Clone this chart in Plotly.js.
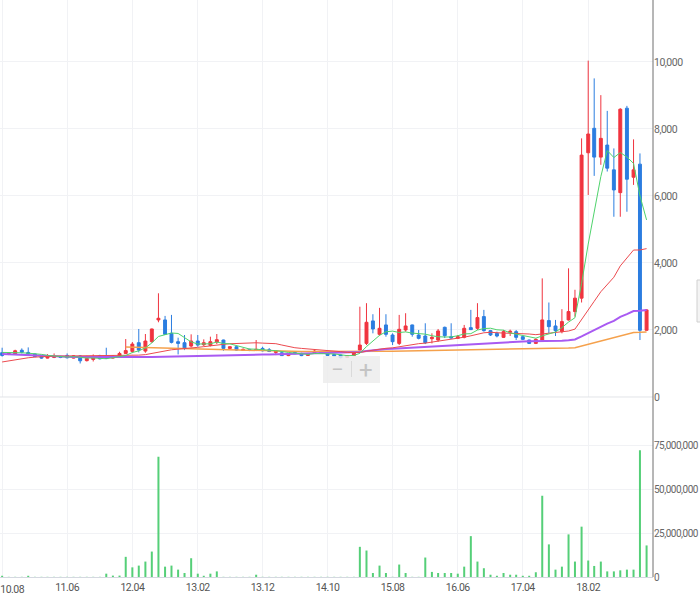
<!DOCTYPE html>
<html>
<head>
<meta charset="utf-8">
<script src="https://cdn.plot.ly/plotly-3.0.1.min.js"></script>
<style>
html,body{margin:0;padding:0;background:#fff;}
#chart{width:700px;height:602px;}
#chart .xtick text, #chart .ytick text, #chart .y2tick text, #chart .lbl10 text { letter-spacing:-0.5px; }
</style>
</head>
<body>
<div id="chart"></div>
<script>
// Monthly candles, 2010.08 - 2018.11
const months = [
 '2010-08','2010-09','2010-10','2010-11','2010-12',
 '2011-01','2011-02','2011-03','2011-04','2011-05','2011-06','2011-07','2011-08','2011-09','2011-10','2011-11','2011-12',
 '2012-01','2012-02','2012-03','2012-04','2012-05','2012-06','2012-07','2012-08','2012-09','2012-10','2012-11','2012-12',
 '2013-01','2013-02','2013-03','2013-04','2013-05','2013-06','2013-07','2013-08','2013-09','2013-10','2013-11','2013-12',
 '2014-01','2014-02','2014-03','2014-04','2014-05','2014-06','2014-07','2014-08','2014-09','2014-10','2014-11','2014-12',
 '2015-01','2015-02','2015-03','2015-04','2015-05','2015-06','2015-07','2015-08','2015-09','2015-10','2015-11','2015-12',
 '2016-01','2016-02','2016-03','2016-04','2016-05','2016-06','2016-07','2016-08','2016-09','2016-10','2016-11','2016-12',
 '2017-01','2017-02','2017-03','2017-04','2017-05','2017-06','2017-07','2017-08','2017-09','2017-10','2017-11','2017-12',
 '2018-01','2018-02','2018-03','2018-04','2018-05','2018-06','2018-07','2018-08','2018-09','2018-10','2018-11'
];

const openP = [1323,1270,1280,1395,1330,1285,1205,1160,1180,1210, 1240,1160,1225,1085,1120,1230,1190,1160,1200,1300,
 1360,1620,1370,1650,2300,2300,1900,1650,1620,1520, 1670,1560,1540,1640,1700,1450,1500,1390,1420,1390,
 1450,1410,1330,1320,1235,1330,1300,1240,1300,1340, 1300,1270,1250,1180,1235,1400,1600,2270,1870,2150,
 1850,1600,2000,2150,1850,1820,1740,1700,2080,1800, 1750,1780,2070,2050,2400,1980,1900,1780,1930,1950,
 1800,1700,1600,1700,2280,2120,1950,2300,2550,2950, 7290,8020,7160,7520,6780,6100,8620,6560,6950,1990];

const highP = [1470,1320,1410,1450,1480,1300,1230,1280,1300,1230, 1300,1250,1250,1230,1270,1260,1470,1240,1350,1730,
 1640,2030,1880,2040,3095,2420,2450,1770,1850,1870, 1850,1720,1800,1880,1710,1510,1510,1450,1440,1700,
 1500,1460,1380,1340,1310,1340,1320,1300,1420,1350, 1320,1280,1270,1240,1350,2695,2800,2470,2660,2470,
 1900,2450,2500,2160,2000,2200,1900,2030,2100,2200, 1850,2150,2600,2800,2600,2000,1950,2000,2010,2000,
 1820,1710,1750,3540,2820,2300,2620,3840,3200,7720, 10040,9510,9010,8540,7420,8620,8690,7690,7270,2620];

const lowP = [1205,1250,1260,1300,1250,1190,1140,1150,1160,1160, 1150,1150,1000,1060,1060,1120,1140,1150,1180,1290,
 1320,1330,1320,1620,2230,1850,1600,1270,1400,1480, 1500,1520,1510,1580,1380,1440,1380,1380,1370,1370,
 1360,1340,1250,1230,1220,1280,1220,1230,1290,1290, 1230,1210,1150,1170,1230,1390,1550,1900,1830,1800,
 1550,1550,1950,1800,1720,1580,1600,1650,1760,1740, 1730,1750,2000,2000,1950,1820,1780,1760,1820,1700,
 1700,1590,1580,1700,1900,1820,1900,2280,2400,2820, 6030,6600,6930,6730,5380,5380,5530,6330,1700,1980];

const closeP = [1240,1300,1380,1335,1280,1205,1160,1230,1215,1180, 1170,1230,1080,1150,1190,1140,1150,1220,1300,1385,
 1580,1400,1670,2030,2350,1870,1630,1600,1450,1670, 1550,1620,1650,1710,1450,1500,1400,1420,1390,1420,
 1380,1360,1370,1235,1300,1290,1235,1290,1370,1300, 1240,1220,1175,1230,1335,1550,2230,2030,2050,1870,
 1650,2020,2120,1870,1750,1620,1780,1970,1830,1760, 1800,2050,2010,2370,1980,1850,1820,1950,1960,1780,
 1720,1600,1720,2300,2100,1980,2250,2550,2950,7220, 7850,7160,7720,6830,6180,8590,6500,6780,1990,2600];

const volume = [700000,100000,100000,100000,700000,100000,100000,100000,100000,100000,
 100000,100000,100000,100000,100000,100000,1900000,800000,800000,11500000,
 5500000,6500000,8800000,14500000,68600000,5900000,6500000,4200000,2300000,10700000,
 1900000,700000,1900000,3200000,100000,100000,100000,100000,100000,1300000,
 100000,100000,100000,100000,100000,100000,100000,100000,100000,100000,
 100000,100000,100000,100000,100000,17200000,15100000,2300000,6500000,2300000,
 100000,7100000,2300000,100000,100000,11100000,2900000,2300000,2300000,2300000,
 1900000,5900000,23300000,8800000,5000000,1300000,700000,2300000,1300000,1300000,
 700000,700000,2700000,46300000,18600000,4200000,5900000,24300000,8800000,28700000,
 9400000,6300000,8800000,3200000,3200000,3800000,4200000,4200000,72200000,18000000];

// Moving-average lines
const ma5 = [1330,1330,1325,1320,1307,1300,1272,1242,1218,1198, 1191,1205,1175,1162,1164,1158,1142,1170,1200,1239,
 1327,1377,1467,1613,1806,1864,1910,1896,1780,1644, 1580,1578,1588,1640,1596,1586,1542,1496,1432,1426,
 1402,1394,1384,1353,1329,1311,1286,1270,1297,1297, 1287,1284,1261,1233,1240,1302,1504,1675,1839,1946,
 1966,1924,1942,1906,1882,1876,1828,1798,1790,1792, 1828,1882,1890,1998,2042,2052,2006,1994,1912,1872,
 1846,1802,1756,1824,1888,1940,2070,2236,2366,3390, 4564,5546,6580,7356,7148,7296,7164,6972,6004,5284];

const ma20 = [1045,1080,1110,1140,1170,1190,1205,1215,1220,1222,1224,1225,1225,1225,1225,1225,1226,1226,1227,
 1227,1244,1249,1264,1298,1352,1385,1409,1427,1439, 1463,1482,1502,1530,1558,1571,1589,1602,1612,1616,
 1618,1608,1606,1591,1551,1499,1470,1450,1435,1431, 1412,1397,1377,1353,1329,1323,1326,1367,1398,1431,
 1453,1467,1500,1537,1569,1591,1608,1635,1669,1692, 1715,1743,1785,1826,1883,1916,1931,1910,1906,1902,
 1897,1901,1880,1860,1881,1899,1917,1940,1969,2025, 2298,2601,2856,3142,3365,3575,3912,4146,4386,4388, 4428];

const ma60 = [1280,1270,1260,1250,1240,1230,1220,1212,1205,1200, 1195,1192,1190,1188,1186,1185,1184,1184,1184,1185,
 1186,1188,1190,1193,1196,1200,1204,1208,1212,1216, 1220,1224,1228,1232,1236,1240,1245,1250,1255,1260,
 1265,1270,1275,1280,1284,1288,1292,1296,1300,1305, 1310,1315,1320,1325,1330,1345,1370,1395,1415,
 1433,1440,1452,1464,1473,1481,1488,1498,1510,1520, 1530,1541,1554,1570,1590,1603,1615,1626,1638,1649,
 1656,1658,1662,1663,1667,1663,1665,1675,1691,1716, 1808,1913,2006,2107,2192,2271,2389,2474,2564,2574, 2593];

const ma120 = [null,null,null,null,null,null,null,null,null,null, null,null,null,null,null,null,null,null,null,
 1490,1485,1480,1474,1466,1458,1450,1444,1438,1432, 1425,1418,1412,1406,1400,1395,1390,1385,1380,1376,
 1372,1368,1365,1362,1360,1358,1356,1355,1354,1353, 1352,1352,1352,1352,1352,1353,1354,1356,1358,1360,
 1362,1365,1368,1371,1374,1377,1380,1383,1386,1389, 1392,1395,1398,1401,1404,1407,1410,1413,1416,1419,
 1422,1425,1430,1435,1440,1445,1450,1455,1462,1470, 1520,1575,1625,1680,1727,1769,1831,1875,1922,1929, 1941];

const tickDates = ['2010-08','2011-06','2012-04','2013-02','2013-12','2014-10','2015-08','2016-06','2017-04','2018-02'];
const tickLabels = ['10.08','11.06','12.04','13.02','13.12','14.10','15.08','16.06','17.04','18.02'];
const priceTicks = [0,2000,4000,6000,8000,10000];
const volTicks = [0,25000000,50000000,75000000];

const RED = '#f0343f', BLUE = '#2b7de0', GREEN_BAR = '#55cf78';
const C_MA5 = '#4fd36c', C_MA20 = '#ec4a4f', C_MA60 = '#a95af2', C_MA120 = '#f5a14c';

const traces = [
  {
    type: 'candlestick', x: months, open: openP, high: highP, low: lowP, close: closeP,
    xaxis: 'x', yaxis: 'y', hoverinfo: 'skip', whiskerwidth: 0,
    increasing: {line: {color: RED, width: 1}, fillcolor: RED},
    decreasing: {line: {color: BLUE, width: 1}, fillcolor: BLUE}
  },
  {type: 'scatter', mode: 'lines', x: months, y: ma120, line: {color: C_MA120, width: 1.5}, hoverinfo: 'skip', xaxis: 'x', yaxis: 'y'},
  {type: 'scatter', mode: 'lines', x: months, y: ma60, line: {color: C_MA60, width: 2}, hoverinfo: 'skip', xaxis: 'x', yaxis: 'y'},
  {type: 'scatter', mode: 'lines', x: months, y: ma20, line: {color: C_MA20, width: 1}, hoverinfo: 'skip', xaxis: 'x', yaxis: 'y'},
  {type: 'scatter', mode: 'lines', x: months, y: ma5, line: {color: C_MA5, width: 1}, hoverinfo: 'skip', xaxis: 'x', yaxis: 'y'},
  {
    type: 'bar', x: months, y: volume, xaxis: 'x', yaxis: 'y2',
    marker: {color: GREEN_BAR, line: {width: 0}}, width: 8.1e8, hoverinfo: 'skip'
  }
];

// first x label sits flush at the left edge, drawn separately
const shownLabels = tickLabels.map((t, i) => i === 0 ? '' : t);

const FONT = 'Roboto, "Noto Sans", "DejaVu Sans", sans-serif';
const layout = {
  width: 700, height: 602,
  margin: {l: 0, r: 47, t: 0, b: 25, pad: 0},
  paper_bgcolor: '#ffffff', plot_bgcolor: '#ffffff',
  showlegend: false,
  font: {family: FONT, size: 10, color: '#666'},
  xaxis: {
    type: 'date', range: ['2010-07-22', '2018-12-01'],
    tickvals: tickDates, ticktext: shownLabels,
    showgrid: true, gridcolor: '#f1f2f5', gridwidth: 1,
    anchor: 'y2', showline: true, linecolor: '#d4d8e0', linewidth: 1,
    ticks: '', zeroline: false, fixedrange: true,
    rangeslider: {visible: false},
    tickfont: {family: FONT, size: 10.5, color: '#555'}
  },
  yaxis: {
    domain: [0.312, 1], range: [0, 11850], side: 'right',
    tickvals: priceTicks, tickformat: ',d',
    showgrid: true, gridcolor: '#f1f2f5', zeroline: false,
    showline: false, ticks: '', fixedrange: true,
    tickfont: {family: FONT, size: 10.5, color: '#666'}
  },
  yaxis2: {
    domain: [0, 0.307], range: [0, 101000000], side: 'right', anchor: 'x',
    tickvals: volTicks, tickformat: ',d',
    showgrid: true, gridcolor: '#f1f2f5', zeroline: false,
    showline: false, ticks: '', fixedrange: true,
    tickfont: {family: FONT, size: 10, color: '#666'}
  },
  shapes: [
    {type: 'line', xref: 'paper', yref: 'paper', x0: 0, x1: 1, y0: 0.312, y1: 0.312, line: {color: '#e2e4e8', width: 1}},
    {type: 'line', xref: 'paper', yref: 'paper', x0: 1, x1: 1, y0: 0, y1: 1, line: {color: '#6f6f6f', width: 1}},
    {type: 'rect', xref: 'paper', yref: 'paper', x0: 323/653, x1: 380/653, y0: 1 - 383/577, y1: 1 - 356/577,
     fillcolor: 'rgba(236,236,236,0.85)', line: {width: 0}, layer: 'above'},
    {type: 'line', xref: 'paper', yref: 'paper', x0: 351.5/653, x1: 351.5/653, y0: 1 - 377/577, y1: 1 - 361/577,
     line: {color: '#dadada', width: 1}, layer: 'above'},
    {type: 'rect', xref: 'paper', yref: 'paper', x0: 697/653, x1: 706/653, y0: 1 - 322/577, y1: 1 - 280/577,
     fillcolor: '#f4f4f4', line: {color: '#d0d0d0', width: 1}, layer: 'above'}
  ],
  annotations: [
    {xref: 'paper', yref: 'paper', x: 337/653, y: 1 - 369.5/577, text: '−', showarrow: false,
     font: {family: FONT, size: 22, color: '#c4c4c4'}, xanchor: 'center', yanchor: 'middle'},
    {xref: 'paper', yref: 'paper', x: 365.5/653, y: 1 - 369.5/577, text: '+', showarrow: false,
     font: {family: FONT, size: 24, color: '#c4c4c4'}, xanchor: 'center', yanchor: 'middle'},
    {xref: 'paper', yref: 'paper', x: 0, y: -(589 - 577)/577, text: tickLabels[0], showarrow: false,
     font: {family: FONT, size: 10.5, color: '#555'}, xanchor: 'left', yanchor: 'middle', xshift: -2,
     borderpad: 0, name: 'lbl10', templateitemname: ''}
  ]
};

Plotly.newPlot('chart', traces, layout, {displayModeBar: false, staticPlot: true}).then(function () {
  var ann = document.querySelectorAll('#chart .annotation');
  if (ann.length) ann[ann.length - 1].classList.add('lbl10');
});
</script>
</body>
</html>
